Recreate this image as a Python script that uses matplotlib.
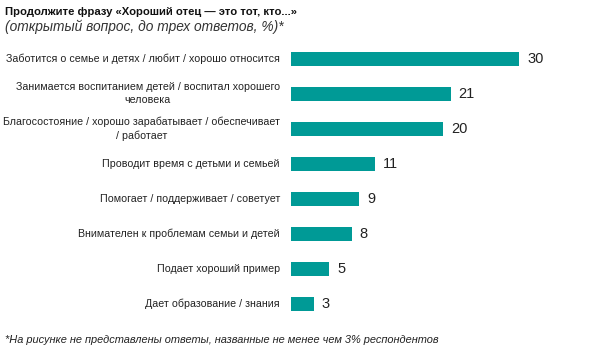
import matplotlib.pyplot as plt
import numpy as np

plt.rcParams['font.family'] = ['Liberation Sans', 'DejaVu Sans']

labels = [
    "Заботится о семье и детях / любит / хорошо относится",
    "Занимается воспитанием детей / воспитал хорошего\nчеловека",
    "Благосостояние / хорошо зарабатывает / обеспечивает\n/ работает",
    "Проводит время с детьми и семьей",
    "Помогает / поддерживает / советует",
    "Внимателен к проблемам семьи и детей",
    "Подает хороший пример",
    "Дает образование / знания",
]
values = [30, 21, 20, 11, 9, 8, 5, 3]

title = "Продолжите фразу «Хороший отец — это тот, кто...»"
subtitle = "(открытый вопрос, до трех ответов, %)*"
footnote = "*На рисунке не представлены ответы, названные не менее чем 3% респондентов"

W, H = 611, 352
fig = plt.figure(figsize=(W / 100, H / 100), dpi=100)
ax = fig.add_axes([291 / W, (H - 321.3) / H, 304 / W, 280 / H])

y = np.arange(len(values))
bars = ax.barh(y, values, height=0.41, color='#009a96')
ax.bar_label(bars, padding=5.8, fontsize=10.5, color='#222222')

ax.set_xlim(0, 40)
ax.set_ylim(len(values) - 0.5, -0.5)
ax.axis('off')

for yi, lab in zip(y, labels):
    ax.text(-1.45, yi, lab, ha='right', va='center', multialignment='center',
            fontsize=7.7, color='#222222', linespacing=1.35)

fig.text(5 / W, 1 - 12 / H, title, fontsize=8.1, fontweight='bold', va='center', color='#111111')
fig.text(5 / W, 1 - 27 / H, subtitle, fontsize=9.9, style='italic', va='center', color='#333333')
fig.text(5 / W, 1 - 340 / H, footnote, fontsize=7.9, style='italic', va='center', color='#222222')

fig.savefig('out.png', dpi=100)
